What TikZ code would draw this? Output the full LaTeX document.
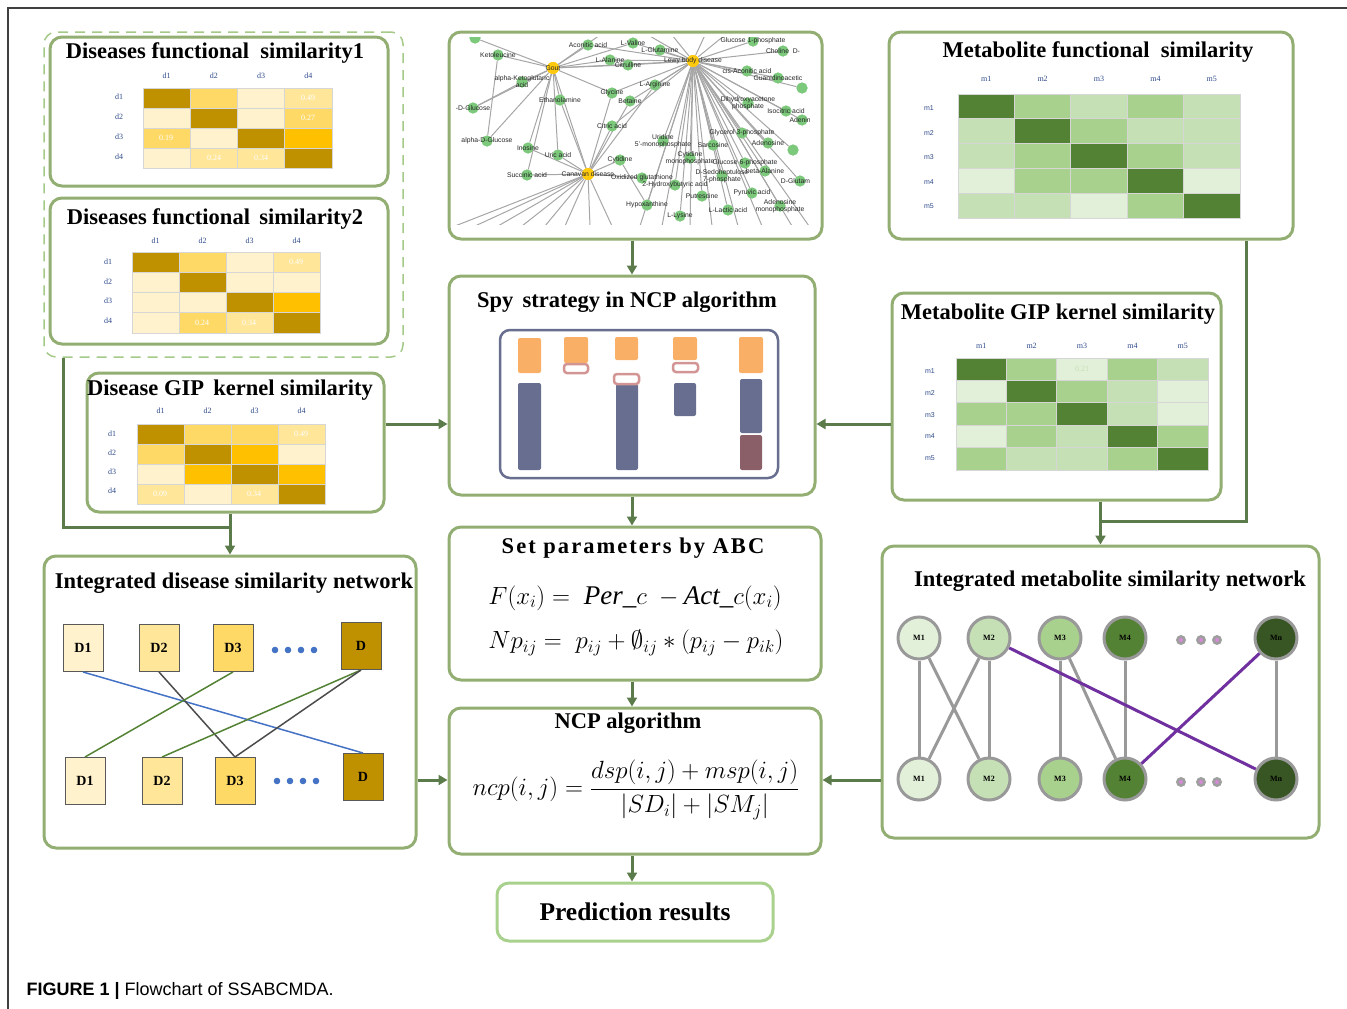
\documentclass[tikz,border=0pt]{standalone}
\usepackage{fontspec}
\setmainfont{Liberation Serif}
\setsansfont{Liberation Sans}
\usepackage{amsmath}
\usetikzlibrary{arrows.meta,fit}

\definecolor{panelgreen}{HTML}{93AE72}
\definecolor{predgreen}{HTML}{A9D18E}
\definecolor{flowgreen}{HTML}{5B7B4B}
\definecolor{goldD}{HTML}{BF9000}
\definecolor{goldB}{HTML}{FFC000}
\definecolor{goldM}{HTML}{FFD966}
\definecolor{goldL}{HTML}{FFE699}
\definecolor{goldP}{HTML}{FFF2CC}
\definecolor{grnD}{HTML}{548235}
\definecolor{grnM}{HTML}{A9D18E}
\definecolor{grnL}{HTML}{C5E0B4}
\definecolor{grnP}{HTML}{E2F0D9}
\definecolor{grnX}{HTML}{375623}
\definecolor{cellgray}{HTML}{D6D6D6}
\definecolor{labblue}{HTML}{2E4A8A}
\definecolor{spyblue}{HTML}{676E8F}
\definecolor{spyorange}{HTML}{F9B066}
\definecolor{spyred}{HTML}{D39494}
\definecolor{spymauve}{HTML}{8A5F68}
\definecolor{netgreen}{HTML}{7CC97C}
\definecolor{hubgold}{HTML}{FFC90E}
\definecolor{linkblue}{HTML}{4472C4}
\definecolor{linkgreen}{HTML}{548235}
\definecolor{purp}{HTML}{7030A0}
\definecolor{dotpink}{HTML}{D58AD5}

\newcommand{\heatgrid}[5]{%
  \foreach \hrow [count=\ri from 0] in {#5}{%
    \foreach \hcol [count=\ci from 0] in \hrow{%
      \filldraw[fill=\hcol, draw=cellgray, line width=1pt]
        ({#1+\ci*#3},{#2+\ri*#4}) rectangle ++(#3,#4);
    }}}

\tikzset{
  panel/.style={draw=panelgreen, line width=3pt, rounded corners=12pt, inner sep=0pt},
  ttl/.style={font=\bfseries\fontsize{22.5}{24}\selectfont},
  flow/.style={draw=flowgreen, line width=3pt, -{Triangle[length=9pt,width=10pt]}},
  flowline/.style={draw=flowgreen, line width=3pt},
  axlab/.style={font=\fontsize{8}{8}\selectfont, text=labblue},
  val/.style={font=\fontsize{8}{8}\selectfont, text=white},
  met/.style={circle, fill=netgreen, minimum size=11pt, inner sep=0pt},
  hubn/.style={circle, fill=hubgold, minimum size=12pt, inner sep=0pt},
  nlab/.style={font=\sffamily\fontsize{6.8}{7}\selectfont, text=black!85, align=center},
  nedge/.style={draw=gray!70, line width=1pt},
  dbox/.style={draw=gray!70!black, line width=1pt, minimum width=40pt, minimum height=47pt, font=\bfseries\fontsize{14}{14}\selectfont},
  mnode/.style={circle, draw=gray!80, line width=3pt, minimum size=42pt, inner sep=0pt, font=\bfseries\fontsize{8}{8}\selectfont},
  mlink/.style={draw=gray!80, line width=3pt},
  plink/.style={draw=purp, line width=3pt},
  eq/.style={font=\fontsize{27}{30}\selectfont}
}

\begin{document}
\begin{tikzpicture}[x=1pt,y=-1pt]
\useasboundingbox (0,0) rectangle (1347,1009);
\draw[black!75, line width=1.2pt] (8,1009) -- (8,8) -- (1347,8);

\node[panel, draw=predgreen!80!panelgreen, dashed, dash pattern=on 10pt off 7pt, line width=1.5pt, fit={(44,32) (403,357)}] (dash) {};
\node[panel, fit={(50,37) (388,186)}] (df1) {};
\node[panel, fit={(50,198) (388,344)}] (df2) {};
\node[panel, fit={(87,373) (384,512)}] (dgip) {};
\node[panel, fit={(449,32) (822,239)}] (net) {};
\node[panel, fit={(889,32) (1293,239)}] (mfs) {};
\node[panel, fit={(892,293) (1221,500)}] (mgip) {};
\node[panel, fit={(449,276) (815,495)}] (spy) {};
\node[panel, fit={(449,527) (821,680)}] (abc) {};
\node[panel, fit={(449,708) (821,854)}] (ncp) {};
\node[panel, fit={(44,556) (416,848)}] (ids) {};
\node[panel, fit={(882,546) (1319,838)}] (ims) {};
\node[panel, draw=predgreen, fit={(497,883) (773,941)}] (pred) {};

\node[ttl] at (215,53) {Diseases functional \ similarity1};
\node[ttl] at (215,219) {Diseases functional \,similarity2};
\node[ttl] at (230,390) {Disease GIP \,kernel similarity};
\node[ttl] at (1098,52) {Metabolite functional \ similarity};
\node[ttl] at (1058,314) {Metabolite GIP kernel similarity};
\node[ttl] at (627,302) {Spy \,strategy in NCP algorithm};
\node[ttl, font=\bfseries\fontsize{22.5}{24}\selectfont\addfontfeature{LetterSpace=9}] at (633,548) {Set parameters by ABC};
\node[ttl] at (628,723) {NCP algorithm};
\node[ttl] at (234,583) {Integrated disease similarity network};
\node[ttl] at (1110,581) {Integrated metabolite similarity network};
\node[ttl, font=\bfseries\fontsize{25.5}{27}\selectfont] at (pred) {Prediction results};

\heatgrid{143}{88}{47.25}{20}{{goldD,goldM,goldP,goldL},{goldP,goldD,goldP,goldM},{goldM,goldP,goldD,goldB},{goldP,goldL,goldL,goldD}}
\foreach \t [count=\k from 0] in {d1,d2,d3,d4}{
  \node[axlab] at (119,{97+\k*20}) {\t};
  \node[axlab] at ({166.6+\k*47.25},76) {\t};
}
\node[val] at (308,98) {0.49};
\node[val] at (308,118) {0.27};
\node[val] at (166,138) {0.19};
\node[val] at (214,158) {0.24};
\node[val] at (261,158) {0.34};

\heatgrid{132}{252}{47}{20.25}{{goldD,goldM,goldP,goldL},{goldP,goldD,goldP,goldP},{goldP,goldP,goldD,goldB},{goldP,goldM,goldL,goldD}}
\foreach \t [count=\k from 0] in {d1,d2,d3,d4}{
  \node[axlab] at (108,{262+\k*19.5}) {\t};
  \node[axlab] at ({155.5+\k*47},241) {\t};
}
\node[val] at (296,262) {0.49};
\node[val] at (202,323) {0.24};
\node[val] at (249,323) {0.34};

\heatgrid{137}{424}{47}{20}{{goldD,goldM,goldM,goldL},{goldM,goldD,goldB,goldP},{goldP,goldB,goldD,goldB},{goldL,goldP,goldL,goldD}}
\foreach \t [count=\k from 0] in {d1,d2,d3,d4}{
  \node[axlab] at (112,{434+\k*19}) {\t};
  \node[axlab] at ({160.5+\k*47},411) {\t};
}
\node[val] at (301,434) {0.49};
\node[val] at (160,494) {0.09};
\node[val] at (254,494) {0.34};

\heatgrid{958}{94}{56.4}{24.8}{{grnD,grnM,grnL,grnM,grnL},{grnL,grnD,grnM,grnL,grnL},{grnL,grnM,grnD,grnM,grnL},{grnP,grnM,grnM,grnD,grnP},{grnL,grnL,grnP,grnM,grnD}}
\foreach \t [count=\k from 0] in {m1,m2,m3,m4,m5}{
  \node[axlab, font=\sffamily\fontsize{7}{7}\selectfont] at (929,{108+\k*24.6}) {\t};
  \node[axlab] at ({986.2+\k*56.4},79) {\t};
}

\heatgrid{956}{358}{50.4}{22.4}{{grnD,grnM,grnP,grnM,grnL},{grnP,grnD,grnM,grnL,grnP},{grnM,grnM,grnD,grnL,grnP},{grnP,grnM,grnL,grnD,grnM},{grnM,grnL,grnL,grnM,grnD}}
\foreach \t [count=\k from 0] in {m1,m2,m3,m4,m5}{
  \node[axlab, font=\sffamily\fontsize{7}{7}\selectfont] at (930,{371+\k*21.8}) {\t};
  \node[axlab] at ({981.2+\k*50.4},346) {\t};
}
\node[val, text=grnL] at (1082,369) {0.21};

\begin{scope}
\clip (453,37) rectangle (809,224);
\node[hubn] (gout) at (553,68) {};
\node[hubn] (lewy) at (693,61) {};
\node[hubn] (canav) at (588,174) {};
\foreach \n/\x/\y in {n0/475/38,rnode/802/88,rn2/793/150}
  \node[met] (\n) at (\x,\y) {};
\foreach \n/\x/\y in {ketol/498/55, acon/588/45, lval/633/43, lglu/660/50, akg/522/82, lala/610/60,
    citr/628/65, larg/655/85, eth/560/100, gly/612/93, bet/630/101, dglu/473/108, cit/612/126,
    cisac/747/71, guan/778/78, chol/783/51, g1p/753/41, dhap/748/103, isoc/786/111, aden/802/120,
    adg/487/141, ino/528/148, uric/558/155, urid/663/141, g3p/742/133, sarc/713/145, ados/768/143,
    cmp/690/158, cyt/620/160, succ/527/175, oxg/642/178, g6p/745/163, sedo/722/176, bala/765/171,
    dgln/800/181, hbut/675/185, putr/702/196, pyr/752/193, amp/780/206, hyp/647/205, llac/728/210,
    llys/680/216}
  \node[met] (\n) at (\x,\y) {};
\foreach \x [count=\k] in {455,475,498,522,545,565,590,612}
  \coordinate (cb\k) at (\x,226);
\foreach \x [count=\k] in {640,662,690,712,738,762,792,809}
  \coordinate (lb\k) at (\x,226);
\foreach \x [count=\k] in {600,648,672,705,725}
  \coordinate (tp\k) at (\x,35);
\foreach \m in {n0,ketol,acon,akg,dglu,eth,gly,adg,ino,uric,succ,lewy,lala,citr,canav,lval,tp1}
  \draw[nedge] (gout) -- (\m);
\foreach \m in {lval,lglu,citr,lala,larg,bet,gly,cit,cisac,chol,guan,g1p,rnode,dhap,isoc,aden,urid,g3p,
    sarc,ados,rn2,cmp,g6p,sedo,bala,dgln,hbut,putr,pyr,amp,llac,llys,acon,hyp,
    lb1,lb2,lb3,lb4,lb5,lb6,lb7,lb8,tp2,tp3,tp4,tp5}
  \draw[nedge] (lewy) -- (\m);
\foreach \m in {cit,cyt,uric,succ,ino,oxg,larg,bet,eth,gly,cb1,cb2,cb3,cb4,cb5,cb6,cb7,cb8}
  \draw[nedge] (canav) -- (\m);
\draw[nedge] (dglu) -- (akg) (adg) -- (ketol) (hyp) -- (cyt);
\foreach \n in {n0,rnode,rn2,ketol,acon,lval,lglu,akg,lala,citr,larg,eth,gly,bet,dglu,cit,
    cisac,guan,chol,g1p,dhap,isoc,aden,adg,ino,uric,urid,g3p,sarc,ados,cmp,cyt,succ,oxg,g6p,sedo,bala,
    dgln,hbut,putr,pyr,amp,hyp,llac,llys}
  \fill[netgreen] (\n) circle (5.5pt);
\foreach \n in {gout,lewy,canav}
  \fill[hubgold] (\n) circle (6pt);
\foreach \n/\t in {gout/Gout, lewy/Lewy body disease, canav/Canavan disease, ketol/Ketoleucine,
    acon/Aconitic acid, lval/L-Valine, lglu/L-Glutamine, akg/{alpha-Ketoglutaric\\acid}, lala/L-Alanine,
    citr/Citrulline, larg/L-Arginine, eth/Ethanolamine, gly/Glycine, bet/Betaine, dglu/-D-Glucose,
    cit/Citric acid, cisac/cis-Aconitic acid, guan/Guanidinoacetic, chol/Choline\ \ D-,
    g1p/Glucose 1-phosphate, dhap/{Dihydroxyacetone\\phosphate}, isoc/Isocitric acid, aden/Adenine,
    adg/alpha-D-Glucose, ino/Inosine, uric/Uric acid, urid/{Uridine\\5'-monophosphate},
    g3p/Glycerol 3-phosphate, sarc/Sarcosine, ados/Adenosine, cmp/{Cytidine\\monophosphate},
    cyt/Cytidine, succ/Succinic acid, oxg/Oxidized glutathione, g6p/Glucose 6-phosphate,
    sedo/{D-Sedoheptulose\\7-phosphate}, bala/beta-Alanine, dgln/D-Glutamine,
    hbut/2-Hydroxybutyric acid, putr/Putrescine, pyr/Pyruvic acid, amp/{Adenosine\\monophosphate},
    hyp/Hypoxanthine, llac/L-Lactic acid, llys/L-Lysine}
  \node[nlab] at (\n) {\t};
\end{scope}

\draw[spyblue, line width=2.5pt, rounded corners=10pt] (500,330) rectangle (778,478);
\begin{scope}[rounded corners=2pt]
\fill[spyorange] (518,338) rectangle (541,373);
\fill[spyblue] (518,383) rectangle (541,470);
\fill[spyorange] (564,337) rectangle (588,363);
\fill[spyorange] (615,337) rectangle (638,360);
\fill[spyblue] (616,384) rectangle (638,470);
\fill[spyorange] (673,337) rectangle (697,360);
\fill[spyblue] (674,383) rectangle (696,416);
\fill[spyorange] (739,337) rectangle (763,373);
\fill[spyblue] (740,379) rectangle (762,433);
\fill[spymauve] (740,435) rectangle (762,470);
\end{scope}
\begin{scope}[draw=spyred, fill=white, line width=2.5pt, rounded corners=3pt]
\filldraw (564,364) rectangle (588,373);
\filldraw (614,374) rectangle (639,384);
\filldraw (673,363) rectangle (698,372);
\end{scope}

\node[eq] at (635,598) {$F(x_i) = \ \mathit{Per}\_c\ - \mathit{Act}\_c(x_i)$};
\node[eq] at (636,643) {$Np_{ij} = \ p_{ij} + \emptyset_{ij} * (p_{ij} - p_{ik})$};
\node[eq, font=\fontsize{25.5}{28}\selectfont] at (636,790) {$ncp(i,j) = \dfrac{dsp(i,j) + msp(i,j)}{|SD_i| + \left|SM_j\right|}$};

\node[dbox, fill=goldP] (td1) at (83,648) {D1};
\node[dbox, fill=goldL] (td2) at (159,648) {D2};
\node[dbox, fill=goldM] (td3) at (233,648) {D3};
\node[dbox, fill=goldD] (tdn) at (361,646) {D};
\node[dbox, fill=goldP] (bd1) at (85,781) {D1};
\node[dbox, fill=goldL] (bd2) at (162,781) {D2};
\node[dbox, fill=goldM] (bd3) at (235,781) {D3};
\node[dbox, fill=goldD] (bdn) at (363,777) {D};
\foreach \x in {275,288,301,314} \fill[linkblue] (\x,650) circle (3.3pt);
\foreach \x in {277,290,303,316} \fill[linkblue] (\x,781) circle (3.3pt);
\draw[linkblue, line width=1.5pt] (td1.south) -- (bdn.north);
\draw[black!70, line width=1.5pt] (td2.south) -- (bd3.north);
\draw[linkgreen, line width=1.5pt] (td3.south) -- (bd1.north);
\draw[linkgreen, line width=1.5pt] (tdn.south) -- (bd2.north);
\draw[black!70, line width=1.5pt] (tdn.south) -- (bd3.north);

\node[mnode, fill=grnP] (tm1) at (919,638) {M1};
\node[mnode, fill=grnL] (tm2) at (989,638) {M2};
\node[mnode, fill=grnM] (tm3) at (1060,638) {M3};
\node[mnode, fill=grnD] (tm4) at (1125,638) {M4};
\node[mnode, fill=grnX] (tmn) at (1276,638) {Mn};
\node[mnode, fill=grnP] (bm1) at (919,779) {M1};
\node[mnode, fill=grnL] (bm2) at (989,779) {M2};
\node[mnode, fill=grnM] (bm3) at (1060,779) {M3};
\node[mnode, fill=grnD] (bm4) at (1125,779) {M4};
\node[mnode, fill=grnX] (bmn) at (1276,779) {Mn};
\foreach \y in {640,782}
  \foreach \x in {1181,1201,1217}{
    \fill[gray!75] (\x,\y) circle (5pt);
    \fill[dotpink] (\x,\y) circle (2pt);
  }
\draw[mlink] (tm1) -- (bm1);
\draw[mlink] (tm1) -- (bm2);
\draw[mlink] (tm2) -- (bm1);
\draw[mlink] (tm2) -- (bm2);
\draw[mlink] (tm3) -- (bm3);
\draw[mlink] (tm3) -- (bm4);
\draw[mlink] (tm4) -- (bm4);
\draw[mlink] (tmn) -- (bmn);
\draw[plink] (tm2) -- (bmn);
\draw[plink] (tmn) -- (bm4);

\coordinate (midrow) at (632,424);
\coordinate (lowrow) at (632,780);
\coordinate (ljoin) at (230,527);
\coordinate (rjoin) at (1100,521);
\draw[flow] (spy.north |- net.south) -- (spy.north);
\draw[flow] (spy.south) -- (spy.south |- abc.north);
\draw[flow] (abc.south -| spy.south) -- (ncp.north -| spy.south);
\draw[flow] (ncp.south -| spy.south) -- (pred.north -| spy.south);
\draw[flow] (dgip.east |- midrow) -- (spy.west |- midrow);
\draw[flow] (mgip.west |- midrow) -- (spy.east |- midrow);
\draw[flow] (ids.east |- lowrow) -- (ncp.west |- lowrow);
\draw[flow] (ims.west |- lowrow) -- (ncp.east |- lowrow);
\draw[flowline] ([xshift=20pt]dash.south west) |- (ljoin);
\draw[flow] (ids.north |- dgip.south) -- (ids.north);
\draw[flowline] ([xshift=-48pt]mfs.south east) |- (rjoin);
\draw[flow] (ims.north |- mgip.south) -- (ims.north);

\node[anchor=west, font=\sffamily\fontsize{18}{18}\selectfont] (cap) at (23,991) {\textbf{FIGURE 1 |} Flowchart of SSABCMDA.};
\end{tikzpicture}
\end{document}
